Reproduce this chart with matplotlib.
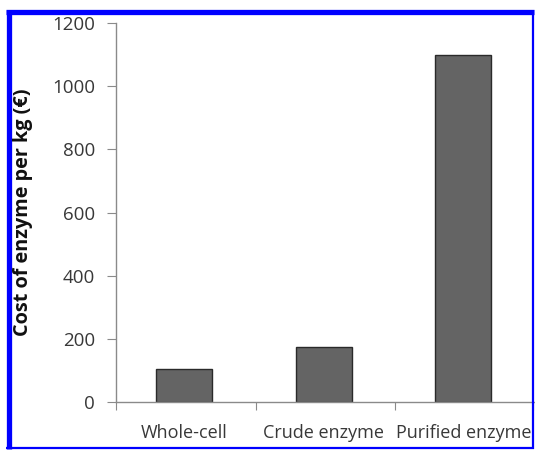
import matplotlib.pyplot as plt
import numpy as np

categories = ["Whole-cell", "Crude enzyme", "Purified enzyme"]
cost = [105, 175, 1100]
yticks = [0, 200, 400, 600, 800, 1000, 1200]

plt.rcParams['font.family'] = ['Open Sans', 'DejaVu Sans']

W, H = 535, 450
fig = plt.figure(figsize=(W / 100, H / 100), dpi=100)
ax = fig.add_axes([116 / W, 1 - 402 / H, 418.5 / W, 379 / H])

x = np.arange(len(categories)) + 0.49
ax.bar(x, cost, width=0.4, color='#646464', edgecolor='#2a2a2a', linewidth=1.0, zorder=2)

ax.set_xlim(0, 3)
ax.set_ylim(0, 1200)
ax.set_yticks(yticks)
ax.set_xticks([0, 1, 2, 3])
ax.set_xticklabels([])
ax.set_xticks(x, minor=True)
ax.set_xticklabels(categories, minor=True)
ax.tick_params(axis='x', which='minor', length=0, pad=15.5, labelsize=13, labelcolor='#383838')
ax.tick_params(axis='x', which='major', length=5.8, color='#8a8a8a', direction='out')
ax.tick_params(axis='y', length=6.5, color='#8a8a8a', labelsize=13.5, labelcolor='#383838', pad=8.5)

for s in ['top', 'right']:
    ax.spines[s].set_visible(False)
for s in ['left', 'bottom']:
    ax.spines[s].set_color('#8a8a8a')
    ax.spines[s].set_linewidth(1.0)

fig.text(23 / W, 1 - 212 / H, "Cost of enzyme per kg (\u20ac)", rotation=90,
         ha='center', va='center', fontsize=14.3, fontweight='bold', color='#111111')

# blue frame around the figure
blue = '#0000ff'
fig.add_artist(plt.Line2D([6 / W, 534 / W], [1 - 12 / H, 1 - 12 / H], color=blue, lw=3.8,
                          transform=fig.transFigure, solid_capstyle='butt'))
fig.add_artist(plt.Line2D([8.5 / W, 8.5 / W], [1 - 10 / H, 1 - 449 / H], color=blue, lw=3.8,
                          transform=fig.transFigure, solid_capstyle='butt'))
fig.add_artist(plt.Line2D([533 / W, 533 / W], [1 - 10 / H, 1 - 449 / H], color=blue, lw=1.6,
                          transform=fig.transFigure, solid_capstyle='butt'))
fig.add_artist(plt.Line2D([6 / W, 534 / W], [1 - 448 / H, 1 - 448 / H], color=blue, lw=1.6,
                          transform=fig.transFigure, solid_capstyle='butt'))

fig.savefig('out.png', dpi=100)
